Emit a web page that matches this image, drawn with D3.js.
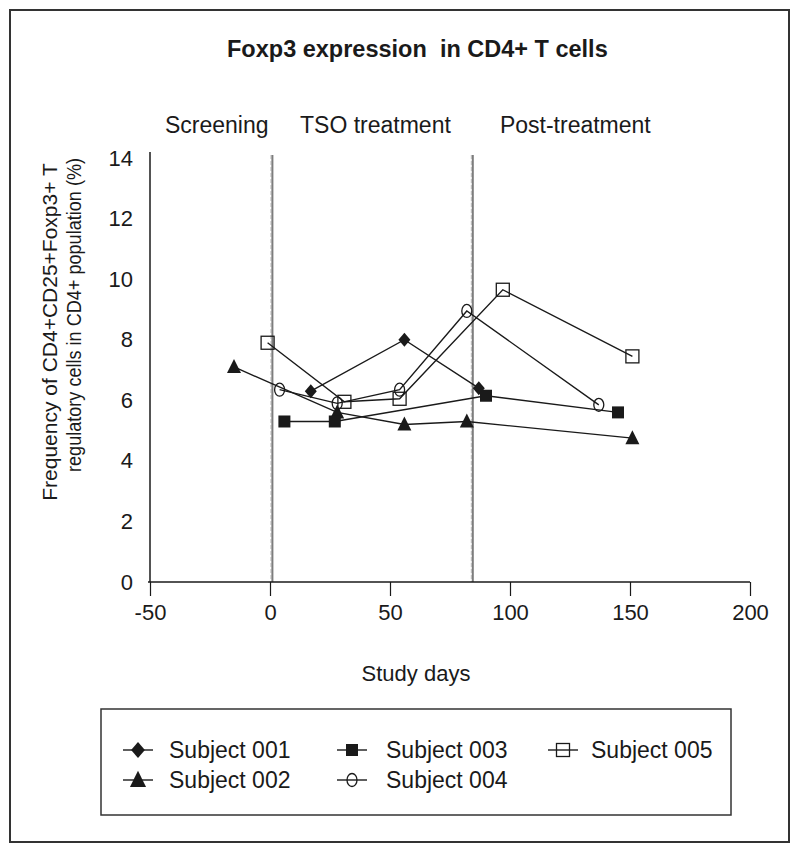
<!DOCTYPE html>
<html>
<head>
<meta charset="utf-8">
<script src="https://cdn.jsdelivr.net/npm/d3@7"></script>
<style>
  html, body { margin: 0; padding: 0; background: #fff; }
  svg { display: block; font-family: "Liberation Sans", Arial, Helvetica, sans-serif; }
</style>
</head>
<body>
<svg id="chart" width="800" height="853"></svg>
<script>
// ---- data ----
const seriesNames = ["Subject 001", "Subject 002", "Subject 003", "Subject 004", "Subject 005"];
const days001 = [17, 56, 87];
const vals001 = [6.3, 8.0, 6.4];
const days002 = [-15, 28, 56, 82, 151];
const vals002 = [7.1, 5.6, 5.2, 5.3, 4.75];
const days003 = [6, 27, 90, 145];
const vals003 = [5.3, 5.3, 6.15, 5.6];
const days004 = [4, 28, 54, 82, 137];
const vals004 = [6.35, 5.9, 6.35, 8.95, 5.85];
const days005 = [-1, 31, 54, 97, 151];
const vals005 = [7.9, 5.95, 6.05, 9.65, 7.45];
const xTicks = [-50, 0, 50, 100, 150, 200];
const yTicks = [0, 2, 4, 6, 8, 10, 12, 14];
const phaseBounds = [1, 84.5];
const phaseLabels = ["Screening", "TSO treatment", "Post-treatment"];
const phaseLabelDays = [-43.75, 12.5, 95.8];

const markerTypes = ["diamond", "triangle", "square", "circle", "opensquare"];
const allDays = [days001, days002, days003, days004, days005];
const allVals = [vals001, vals002, vals003, vals004, vals005];
const series = seriesNames.map((name, i) => ({
  name, marker: markerTypes[i],
  points: allDays[i].map((d, j) => ({ day: d, value: allVals[i][j] }))
}));

const svg = d3.select("#chart");
const x = d3.scaleLinear().domain([-50, 200]).range([150, 750]);
const y = d3.scaleLinear().domain([0, 14]).range([582, 158]);
const ink = "#1a1a1a";

// outer frame
svg.append("rect").attr("x", 10).attr("y", 10).attr("width", 779).attr("height", 832)
  .attr("fill", "none").attr("stroke", "#333").attr("stroke-width", 2);

// title
svg.append("text").attr("x", 227).attr("y", 57)
  .attr("font-size", 23.5).attr("font-weight", "bold").attr("fill", ink)
  .style("white-space", "pre")
  .text("Foxp3 expression  in CD4+ T cells");

// phase labels
svg.selectAll("text.phase").data(phaseLabels).enter().append("text")
  .attr("class", "phase")
  .attr("x", (d, i) => x(phaseLabelDays[i])).attr("y", 133)
  .attr("font-size", 23).attr("fill", ink).text(d => d);

// phase boundary lines
phaseBounds.forEach(b => {
  svg.append("line").attr("x1", x(b) - 1.5).attr("x2", x(b) - 1.5).attr("y1", 155).attr("y2", 582)
    .attr("stroke", "#c4c4c4").attr("stroke-width", 1).attr("stroke-dasharray", "4,2");
  svg.append("line").attr("x1", x(b)).attr("x2", x(b)).attr("y1", 155).attr("y2", 582)
    .attr("stroke", "#7d7d7d").attr("stroke-width", 2);
});

// x axis
const fmt = d => String(d); // plain hyphen-minus like the reference
const xAxis = d3.axisBottom(x).tickValues(xTicks).tickSize(14).tickPadding(8).tickFormat(fmt);
const gx = svg.append("g").attr("transform", "translate(0,582)").call(xAxis);
gx.select(".domain").attr("d", "M148,0H750").attr("stroke", ink).attr("stroke-width", 1.5);
gx.selectAll(".tick line").attr("stroke", ink).attr("stroke-width", 1.2);
gx.selectAll(".tick text").attr("font-size", 22).attr("fill", ink)
  .attr("font-family", "Liberation Sans, Arial, sans-serif");

// y axis
const yAxis = d3.axisLeft(y).tickValues(yTicks).tickSize(0).tickPadding(17).tickFormat(fmt);
const gy = svg.append("g").attr("transform", "translate(150,0)").call(yAxis);
gy.select(".domain").attr("d", "M0,152V582").attr("stroke", ink).attr("stroke-width", 1.5);
gy.selectAll(".tick text").attr("font-size", 22).attr("fill", ink)
  .attr("font-family", "Liberation Sans, Arial, sans-serif");

// axis titles
svg.append("text").attr("x", 416).attr("y", 681).attr("text-anchor", "middle")
  .attr("font-size", 22).attr("fill", ink).text("Study days");
const yl = svg.append("g").attr("transform", "rotate(-90)");
yl.append("text").attr("x", -332).attr("y", 57).attr("text-anchor", "middle")
  .attr("font-size", 21).attr("fill", ink)
  .text("Frequency of CD4+CD25+Foxp3+ T");
yl.append("text").attr("x", -315).attr("y", 81).attr("text-anchor", "middle")
  .attr("font-size", 21).attr("fill", ink)
  .attr("textLength", 314).attr("lengthAdjust", "spacingAndGlyphs")
  .text("regulatory cells in CD4+ population (%)");

// marker drawing
function drawMarker(g, type, cx, cy, s) {
  s = s || 1;
  if (type === "diamond") {
    g.append("path").attr("d", `M${cx},${cy - 7 * s}L${cx + 6 * s},${cy}L${cx},${cy + 7 * s}L${cx - 6 * s},${cy}Z`)
      .attr("fill", ink);
  } else if (type === "triangle") {
    g.append("path").attr("d", `M${cx},${cy - 8 * s}L${cx + 7 * s},${cy + 6 * s}L${cx - 7 * s},${cy + 6 * s}Z`)
      .attr("fill", ink);
  } else if (type === "square") {
    g.append("rect").attr("x", cx - 6 * s).attr("y", cy - 6 * s).attr("width", 12 * s).attr("height", 12 * s)
      .attr("fill", ink);
  } else if (type === "circle") {
    g.append("ellipse").attr("cx", cx).attr("cy", cy).attr("rx", 5 * s).attr("ry", 6.5 * s)
      .attr("fill", "none").attr("stroke", ink).attr("stroke-width", 1.3);
  } else if (type === "opensquare") {
    g.append("rect").attr("x", cx - 6.5 * s).attr("y", cy - 6.5 * s).attr("width", 13 * s).attr("height", 13 * s)
      .attr("fill", "none").attr("stroke", ink).attr("stroke-width", 1.3);
  }
}

// series lines & markers
const line = d3.line().x(d => x(d.day)).y(d => y(d.value));
const plot = svg.append("g");
series.forEach(s => {
  const g = plot.append("g");
  g.append("path").datum(s.points).attr("d", line)
    .attr("fill", "none").attr("stroke", ink).attr("stroke-width", 1.4);
  s.points.forEach(p => drawMarker(g, s.marker, x(p.day), y(p.value), 1));
});

// legend
svg.append("rect").attr("x", 101).attr("y", 709).attr("width", 630).attr("height", 106)
  .attr("fill", "none").attr("stroke", "#333").attr("stroke-width", 1.5);
const legCols = [138, 352, 563];
const legRows = [750, 780];
const legTextX = [169, 386, 591];
series.forEach((s, i) => {
  const col = Math.floor(i / 2), row = i % 2;
  const cx = legCols[col], cy = legRows[row];
  const g = svg.append("g");
  g.append("line").attr("x1", cx - 15).attr("x2", cx + 15).attr("y1", cy).attr("y2", cy)
    .attr("stroke", ink).attr("stroke-width", 1.4);
  drawMarker(g, s.marker, cx, cy, s.marker === "diamond" || s.marker === "triangle" ? 1.15 : 1);
  g.append("text").attr("x", legTextX[col]).attr("y", cy + 8)
    .attr("font-size", 23).attr("fill", ink).text(s.name);
});
</script>
</body>
</html>
